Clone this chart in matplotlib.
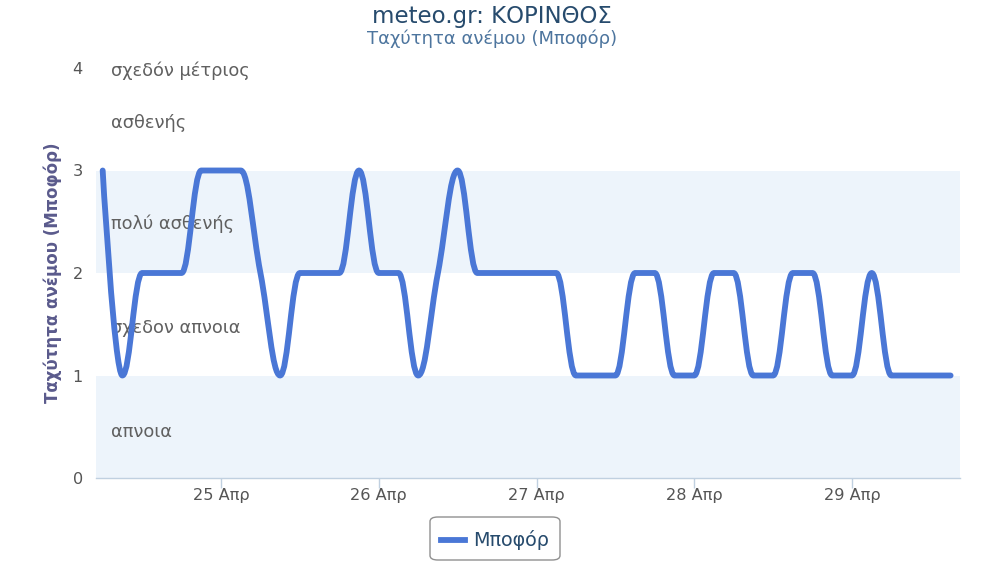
import matplotlib
matplotlib.use("Agg")
import matplotlib.pyplot as plt
import matplotlib.dates as mdates
from matplotlib.path import Path
from matplotlib.patches import PathPatch, FancyBboxPatch
from matplotlib.lines import Line2D
import numpy as np
import datetime as dt

# ---- data ----
start_time = dt.datetime(2024, 4, 24, 6, 0)
step_hours = 3
beaufort = [3, 1, 2, 2, 2, 3, 3, 3, 2, 1,
            2, 2, 2, 3, 2, 2, 1, 2, 3, 2,
            2, 2, 2, 2, 1, 1, 1, 2, 2, 1,
            1, 2, 2, 1, 1, 2, 2, 1, 1, 2,
            1, 1, 1, 1]
tick_days = [25, 26, 27, 28, 29]
tick_labels = ["25 Απρ", "26 Απρ", "27 Απρ", "28 Απρ", "29 Απρ"]
band_names = ["απνοια", "σχεδον απνοια", "πολύ ασθενής", "ασθενής", "σχεδόν μέτριος"]
band_label_y = [0.45, 1.46, 2.48, 3.46, 3.97]
shaded_bands = [(0, 1), (2, 3)]

times = [start_time + dt.timedelta(hours=step_hours * i) for i in range(len(beaufort))]
xs = mdates.date2num(times)
ys = np.array(beaufort, dtype=float)


def highcharts_spline(x, y, smoothing=1.5):
    denom = smoothing + 1
    n = len(x)
    lc = [None] * n
    rc = [None] * n
    for i in range(1, n - 1):
        px, py = x[i], y[i]
        lx, ly = x[i - 1], y[i - 1]
        nx, ny = x[i + 1], y[i + 1]
        lcx = (smoothing * px + lx) / denom
        lcy = (smoothing * py + ly) / denom
        rcx = (smoothing * px + nx) / denom
        rcy = (smoothing * py + ny) / denom
        corr = 0
        if rcx != lcx:
            corr = ((rcy - lcy) * (rcx - px)) / (rcx - lcx) + py - rcy
        lcy += corr
        rcy += corr
        if lcy > ly and lcy > py:
            lcy = max(ly, py)
            rcy = 2 * py - lcy
        elif lcy < ly and lcy < py:
            lcy = min(ly, py)
            rcy = 2 * py - lcy
        if rcy > ny and rcy > py:
            rcy = max(ny, py)
            lcy = 2 * py - rcy
        elif rcy < ny and rcy < py:
            rcy = min(ny, py)
            lcy = 2 * py - rcy
        lc[i] = (lcx, lcy)
        rc[i] = (rcx, rcy)
    verts = [(x[0], y[0])]
    codes = [Path.MOVETO]
    for i in range(1, n):
        c1 = rc[i - 1] if rc[i - 1] is not None else (x[i - 1], y[i - 1])
        c2 = lc[i] if lc[i] is not None else (x[i], y[i])
        verts += [c1, c2, (x[i], y[i])]
        codes += [Path.CURVE4] * 3
    return Path(verts, codes)


W, H = 984, 563
fig = plt.figure(figsize=(W / 100, H / 100), dpi=100)
L, R, T, B = 96, 960, 68, 478
ax = fig.add_axes([L / W, 1 - B / H, (R - L) / W, (B - T) / H])

day0 = mdates.date2num(dt.datetime(2024, 4, 25))
px_per_day = 157.75
xmin = day0 - (221 - L) / px_per_day
xmax = day0 + 4 + (R - 852) / px_per_day
ax.set_xlim(xmin, xmax)
ax.set_ylim(0, 4)

for lo, hi in shaded_bands:
    ax.axhspan(lo, hi, color="#edf4fb", zorder=0, lw=0)

label_color = "#606060"
for name, yv in zip(band_names, band_label_y):
    ax.text(xmin + 15 / px_per_day, yv, name, fontsize=12.8, color=label_color,
            va="center", ha="left", zorder=1)

path = highcharts_spline(xs, ys)
patch = PathPatch(path, facecolor="none", edgecolor="#4a77d6", lw=4.2,
                  capstyle="round", joinstyle="round", zorder=3)
ax.add_patch(patch)

for s in ["top", "right", "left"]:
    ax.spines[s].set_visible(False)
ax.spines["bottom"].set_color("#c0d0e0")
ax.spines["bottom"].set_linewidth(1)

tick_pos = [mdates.date2num(dt.datetime(2024, 4, d)) for d in tick_days]
ax.set_xticks(tick_pos)
ax.set_xticklabels(tick_labels)
ax.tick_params(axis="x", length=7, width=1, color="#c0d0e0", labelsize=11.6,
               labelcolor="#555555", pad=0.5)
ax.set_yticks([0, 1, 2, 3, 4])
ax.set_yticklabels(["0", "1", "2", "3", "4"])
ax.tick_params(axis="y", length=0, labelsize=11.6, labelcolor="#555555", pad=9.5)

ax.set_ylabel("Ταχύτητα ανέμου (Μποφόρ)", fontsize=12, fontweight="bold",
              color="#5a5a8c")
ax.yaxis.set_label_coords(-(L - 62) / (R - L), 0.5)

fig.text(0.5, 1 - 16 / H, "meteo.gr: ΚΟΡΙΝΘΟΣ", ha="center", va="center",
         fontsize=16.5, color="#274b6d")
fig.text(0.5, 1 - 39 / H, "Ταχύτητα ανέμου (Μποφόρ)", ha="center", va="center",
         fontsize=13, color="#4d759e")

# legend
bx0, by0, bx1, by1 = 430, 517, 560, 560
box = FancyBboxPatch((bx0 / W, 1 - by1 / H), (bx1 - bx0) / W, (by1 - by0) / H,
                     boxstyle="round,pad=0,rounding_size=0.008",
                     transform=fig.transFigure, facecolor="white",
                     edgecolor="#909090", lw=1.0)
fig.patches.append(box)
fig.lines.append(Line2D([441 / W, 465 / W], [1 - 540 / H, 1 - 540 / H],
                        transform=fig.transFigure, color="#4a77d6", lw=4.2))
fig.text(473 / W, 1 - 540 / H, "Μποφόρ", ha="left", va="center",
         fontsize=13.8, color="#274b6d")

fig.savefig("out.png", dpi=100)
